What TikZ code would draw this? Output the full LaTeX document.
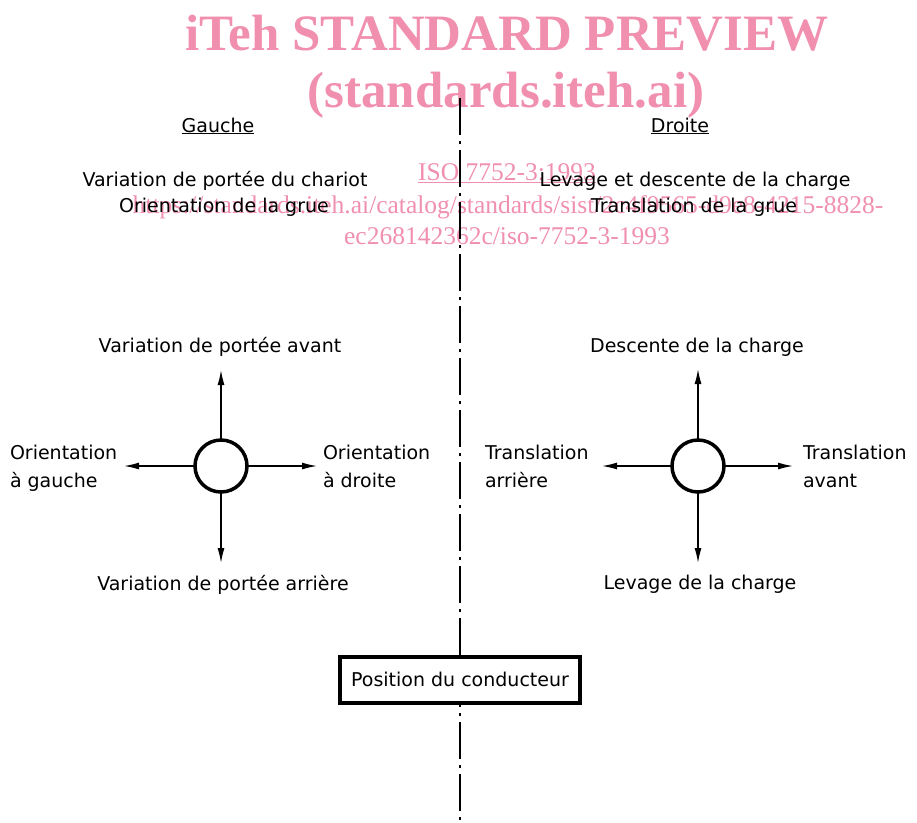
\documentclass[tikz,border=0pt]{standalone}
\usepackage{fontspec}
\setmainfont{DejaVu Sans}
\newfontfamily\wmfont{Liberation Serif}
\usetikzlibrary{arrows.meta}
\definecolor{wmpink}{RGB}{240,143,174}

\begin{document}
\begin{tikzpicture}[x=1pt,y=-1pt,
  every node/.style={inner sep=0pt, outer sep=0pt, font=\fontsize{19}{28}\selectfont},
  wmbig/.style={text=wmpink, anchor=base, font=\wmfont\bfseries\fontsize{51}{51}\selectfont},
  wmsmall/.style={text=wmpink, anchor=base, font=\wmfont\fontsize{25.5}{25.5}\selectfont},
  lbl/.style={anchor=base},
  lblleft/.style={anchor=base west},
  wheel/.style={circle, draw, line width=3.5pt, minimum size=52pt},
  dir/.style={line width=1.4pt, -{Latex[length=15pt,width=7pt]}},
  cab/.style={draw, line width=3.8pt, fill=white, minimum width=240pt, minimum height=46pt},
  axe/.style={line width=1.3pt, dash pattern=on 37pt off 6pt on 3pt off 6pt}]
\useasboundingbox (0,0) rectangle (917,822);

% watermark
\node[wmbig] (wm1) at (507,50) {iTeh STANDARD PREVIEW};
\node[wmbig] (wm2) at (506,107) {(standards.iteh.ai)};
\node[wmsmall] (wm3) at (507,180) {\underline{ISO 7752-3:1993}};
\node[wmsmall] (wm4) at (508,213) {https://standards.iteh.ai/catalog/standards/sist/2c4f9565-d9e8-4215-8828-};
\node[wmsmall] (wm5) at (507,244) {ec268142362c/iso-7752-3-1993};

% axis
\coordinate (axtop) at (460,98);
\coordinate (axbot) at (460,822);
\draw[axe] (axtop) -- (axbot);

% headings
\node[lbl] (gauche) at (218,132) {\underline{Gauche}};
\node[lbl] (droite) at (680,132) {\underline{Droite}};
\node[lbl] (lt1) at (225,186) {Variation de portée du chariot};
\node[lbl] (lt2) at (224,212) {Orientation de la grue};
\node[lbl] (rt1) at (695,186) {Levage et descente de la charge};
\node[lbl] (rt2) at (694,212) {Translation de la grue};

% left lever
\node[wheel] (lw) at (221,466) {};
\coordinate (lw-up) at (221,370);
\coordinate (lw-dn) at (221,563);
\coordinate (lw-lt) at (124,466);
\coordinate (lw-rt) at (317,466);
\draw[dir] (lw.north) -- (lw-up);
\draw[dir] (lw.south) -- (lw-dn);
\draw[dir] (lw.west) -- (lw-lt);
\draw[dir] (lw.east) -- (lw-rt);
\node[lbl] (lw-avant) at (220,352) {Variation de portée avant};
\node[lbl] (lw-arr) at (223,590) {Variation de portée arrière};
\node[lblleft] (lw-g1) at (10,459) {Orientation};
\node[lblleft] (lw-g2) at (10,487) {à gauche};
\node[lblleft] (lw-d1) at (323,459) {Orientation};
\node[lblleft] (lw-d2) at (323,487) {à droite};

% right lever
\node[wheel] (rw) at (698,466) {};
\coordinate (rw-up) at (698,369);
\coordinate (rw-dn) at (698,563);
\coordinate (rw-lt) at (602,466);
\coordinate (rw-rt) at (793,466);
\draw[dir] (rw.north) -- (rw-up);
\draw[dir] (rw.south) -- (rw-dn);
\draw[dir] (rw.west) -- (rw-lt);
\draw[dir] (rw.east) -- (rw-rt);
\node[lbl] (rw-desc) at (697,352) {Descente de la charge};
\node[lbl] (rw-lev) at (700,589) {Levage de la charge};
\node[lblleft] (rw-a1) at (485,459) {Translation};
\node[lblleft] (rw-a2) at (485,487) {arrière};
\node[lblleft] (rw-v1) at (803,459) {Translation};
\node[lblleft] (rw-v2) at (803,487) {avant};

% driver
\node[cab] (poste) at (460,680) {};
\node[lbl] (poste-txt) at (460,686) {Position du conducteur};
\end{tikzpicture}
\end{document}
